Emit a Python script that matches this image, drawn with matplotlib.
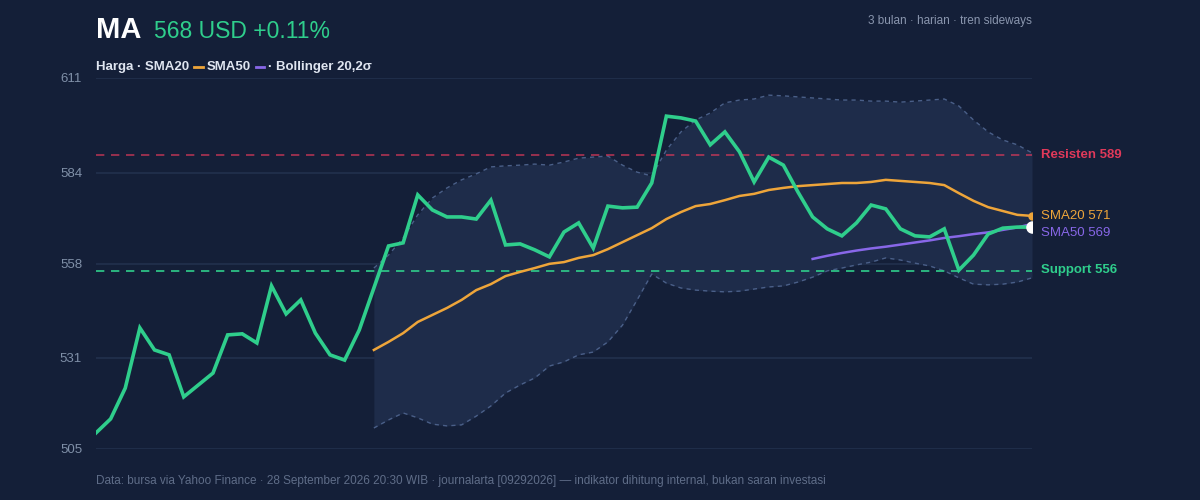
import numpy as np
import matplotlib.pyplot as plt

plt.rcParams['font.family'] = ['Liberation Sans', 'DejaVu Sans']

price = [509.6, 513.6, 522.4, 539.6, 533.3, 531.9, 519.9, 523.3, 526.7, 537.6,
         537.9, 535.3, 551.6, 543.6, 547.6, 538.1, 531.9, 530.4, 539.0, 551.0,
         563.0, 563.9, 577.6, 573.3, 571.3, 571.3, 570.7, 576.1, 563.3, 563.6,
         561.9, 559.9, 567.0, 569.6, 562.4, 574.4, 573.9, 574.1, 581.0, 600.1,
         599.6, 598.7, 591.9, 595.6, 589.9, 581.3, 588.4, 586.1, 578.4, 571.3,
         567.9, 565.9, 569.6, 574.7, 573.6, 567.9, 565.9, 565.6, 567.9, 556.1,
         560.4, 566.4, 568.1, 568.4, 568.4]
sma20 = [533.3, 535.6, 538.1, 541.3, 543.3, 545.3, 547.6, 550.4, 552.1, 554.4,
         555.6, 556.7, 557.9, 558.4, 559.6, 560.4, 562.1, 564.1, 566.1, 568.1,
         570.7, 572.7, 574.4, 575.0, 576.1, 577.3, 577.9, 579.0, 579.6, 580.1,
         580.4, 580.7, 581.0, 581.0, 581.3, 581.9, 581.6, 581.3, 581.0, 580.4,
         578.1, 575.9, 574.1, 573.0, 571.9, 571.6]
sma50 = [559.3, 560.2, 561.0, 561.7, 562.3, 562.8, 563.4, 564.0, 564.6, 565.3,
         565.8, 566.4, 566.9, 567.6, 568.3, 569.3]
bb_upper = [556.7, 560.4, 565.3, 571.9, 576.7, 579.6, 581.9, 583.6, 585.6, 585.9,
            586.1, 586.4, 586.1, 587.0, 588.1, 588.4, 588.7, 586.1, 584.1, 583.0,
            590.4, 595.6, 599.0, 601.0, 603.9, 604.7, 605.0, 606.1, 605.9, 605.6,
            605.3, 605.0, 604.7, 604.7, 604.4, 604.4, 604.1, 604.4, 604.7, 605.0,
            603.0, 599.0, 595.6, 593.3, 591.9, 589.6]
bb_lower = [511.0, 513.3, 515.3, 513.9, 512.1, 511.6, 511.9, 514.4, 517.3, 521.0,
            523.3, 525.3, 528.7, 529.9, 531.9, 532.7, 535.6, 540.4, 547.6, 555.0,
            552.4, 551.0, 550.4, 550.1, 549.9, 550.1, 550.7, 551.3, 551.6, 552.7,
            554.1, 555.9, 556.7, 557.6, 558.4, 559.6, 559.0, 558.1, 557.3, 555.9,
            553.9, 552.1, 551.9, 552.1, 552.7, 553.9]
resistance = 589
support = 556
yticks = [505, 531, 558, 584, 611]

BG = '#141f38'
GREEN = '#2fce8c'
ORANGE = '#eea53a'
PURPLE = '#8867e8'
RED = '#e0395a'

n = len(price)
x = np.arange(n)
x20 = x[n - len(sma20):]
x50 = x[n - len(sma50):]

fig = plt.figure(figsize=(12, 5), dpi=100, facecolor=BG)
ax = fig.add_axes([0.08, 0.102, 0.78, 0.742], facecolor=BG)

ax.fill_between(x20, bb_lower, bb_upper, color='#1e2c4a', lw=0)
ax.plot(x20, bb_upper, color='#4a5f88', lw=1, ls=(0, (3, 3)))
ax.plot(x20, bb_lower, color='#4a5f88', lw=1, ls=(0, (3, 3)))
ax.axhline(resistance, color=RED, lw=1.2, ls=(0, (5, 4)), alpha=0.75)
ax.axhline(support, color=GREEN, lw=1.2, ls=(0, (5, 4)))
ax.plot(x20, sma20, color=ORANGE, lw=1.8)
ax.plot(x50, sma50, color=PURPLE, lw=1.8)
ax.plot(x, price, color=GREEN, lw=2.6, solid_joinstyle='miter')
ax.plot(x20[-1], sma20[-1], 'o', color=ORANGE, ms=5)
ax.plot(x[-1], price[-1], 'o', color='white', ms=8, zorder=5)

ax.set_xlim(0, n - 1)
ax.set_ylim(505, 611)
ax.set_yticks(yticks)
ax.set_yticklabels([str(t) for t in yticks])
ax.yaxis.grid(True, color='#22304d', lw=1.2)
ax.set_axisbelow(True)
ax.set_xticks([])
ax.tick_params(axis='y', length=0, colors='#8090a8', labelsize=9.5, pad=10)
for s in ax.spines.values():
    s.set_visible(False)

tr = ax.get_yaxis_transform()
ax.text(1.01, resistance, f'Resisten {resistance}', transform=tr, color=RED,
        fontsize=9.5, fontweight='bold', va='center')
ax.text(1.01, support, f'Support {support}', transform=tr, color=GREEN,
        fontsize=9.5, fontweight='bold', va='center')
ax.text(1.01, sma20[-1], 'SMA20 571', transform=tr,
        color=ORANGE, fontsize=9.5, va='center')
ax.text(1.01, sma50[-1] - 2.5, 'SMA50 569', transform=tr,
        color=PURPLE, fontsize=9.5, va='center')

fig.text(0.08, 0.94, 'MA', color='white', fontsize=21, fontweight='bold', va='center')
fig.text(0.128, 0.938, '568 USD +0.11%', color=GREEN, fontsize=16.5, va='center')
fig.text(0.86, 0.958, '3 bulan · harian · tren sideways', color='#8a96ae',
         fontsize=8.5, ha='right', va='center')

ly = 0.866
lc = '#dfe5f0'
fig.text(0.08, ly, 'Harga · SMA20', color=lc, fontsize=9.5, fontweight='bold', va='center')
fig.add_artist(plt.Line2D([0.162, 0.169], [ly, ly], color=ORANGE, lw=2, transform=fig.transFigure))
fig.text(0.1725, ly, 'SMA50', color=lc, fontsize=9.5, fontweight='bold', va='center')
fig.add_artist(plt.Line2D([0.213, 0.22], [ly, ly], color=PURPLE, lw=2, transform=fig.transFigure))
fig.text(0.2235, ly, '· Bollinger 20,2σ', color=lc, fontsize=9.5, fontweight='bold', va='center')

fig.text(0.08, 0.038, 'Data: bursa via Yahoo Finance · 28 September 2026 20:30 WIB · '
         'journalarta [09292026] — indikator dihitung internal, bukan saran investasi',
         color='#5f6d88', fontsize=8.5, va='center')

fig.savefig('out.png', dpi=100, facecolor=BG)
